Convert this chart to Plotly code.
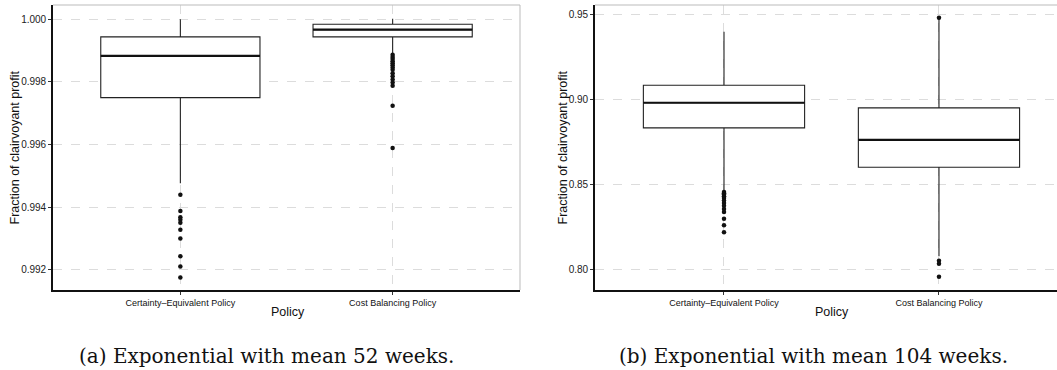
import plotly.graph_objects as go

categories = ["Certainty\u2013Equivalent Policy", "Cost Balancing Policy"]

# Panel (a): Exponential with mean 52 weeks
a_q1 = [0.99750, 0.99944]
a_median = [0.99883, 0.99967]
a_q3 = [0.99944, 0.99984]
a_lower = [0.99477, 0.99891]
a_upper = [1.00000, 1.00002]
a_out_ce = [0.99440, 0.99388, 0.99368, 0.99360, 0.99351, 0.99328, 0.99300,
            0.99244, 0.99211, 0.99176]
a_out_cb = [0.99887, 0.99880, 0.99873, 0.99866, 0.99860, 0.99853, 0.99846,
            0.99839, 0.99828, 0.99818, 0.99808, 0.99798, 0.99788, 0.99724, 0.99589]

# Panel (b): Exponential with mean 104 weeks
b_q1 = [0.8833, 0.8601]
b_median = [0.8981, 0.8763]
b_q3 = [0.9084, 0.8951]
b_lower = [0.8465, 0.8077]
b_upper = [0.9400, 0.9476]
b_out_ce = [0.8455, 0.8448, 0.8440, 0.8430, 0.8420, 0.8405, 0.8390, 0.8375,
            0.8355, 0.8337, 0.8298, 0.8259, 0.8218]
b_out_cb = [0.9482, 0.8051, 0.8033, 0.7956]

y_ticks_a = [0.992, 0.994, 0.996, 0.998, 1.000]
y_ticks_b = [0.80, 0.85, 0.90, 0.95]
captions = ["(a) Exponential with mean 52 weeks.", "(b) Exponential with mean 104 weeks."]

BOX_W = 0.75
fig = go.Figure()

def add_panel(xa, ya, q1, med, q3, lo, up, outs):
    xs = list(range(len(categories)))
    fig.add_trace(go.Box(x=xs, q1=q1, median=med, q3=q3, lowerfence=lo, upperfence=up,
                         width=BOX_W, whiskerwidth=0, fillcolor="white",
                         line=dict(color="#222222", width=1.1), boxpoints=False,
                         showlegend=False, hoverinfo="skip", xaxis=xa, yaxis=ya))
    for i, m in enumerate(med):
        fig.add_trace(go.Scatter(x=[i - BOX_W / 2, i + BOX_W / 2], y=[m, m], mode="lines",
                                 line=dict(color="#111111", width=2.2), showlegend=False,
                                 hoverinfo="skip", xaxis=xa, yaxis=ya))
    for i, o in enumerate(outs):
        fig.add_trace(go.Scatter(x=[i] * len(o), y=o, mode="markers",
                                 marker=dict(color="#111111", size=4.5), showlegend=False,
                                 hoverinfo="skip", xaxis=xa, yaxis=ya))

add_panel("x", "y", a_q1, a_median, a_q3, a_lower, a_upper, [a_out_ce, a_out_cb])
add_panel("x2", "y2", b_q1, b_median, b_q3, b_lower, b_upper, [b_out_ce, b_out_cb])

W, H = 1057, 370
y_dom = [(H - 290) / H, (H - 5) / H]
xa_dom = [53 / W, 520 / W]
xb_dom = [595 / W, 1.0]

common_x = dict(tickmode="array", tickvals=[0, 1], ticktext=categories,
                showgrid=True, gridcolor="#dcdcdc", griddash="dash", gridwidth=1,
                showline=True, linecolor="#111111", linewidth=1.6,
                ticks="outside", ticklen=3, tickcolor="#333333",
                tickfont=dict(family="Liberation Sans, Arial", size=9, color="#111111"),
                zeroline=False, fixedrange=True)
common_y = dict(showgrid=True, gridcolor="#dcdcdc", griddash="dash", gridwidth=1,
                showline=True, linecolor="#111111", linewidth=1.6,
                ticks="outside", ticklen=3, tickcolor="#333333",
                tickfont=dict(family="Liberation Sans, Arial", size=10, color="#222222"),
                zeroline=False, tickmode="array")

fig.update_layout(
    width=W, height=H, margin=dict(l=0, r=0, t=0, b=0),
    paper_bgcolor="white", plot_bgcolor="white",
    xaxis=dict(domain=xa_dom, range=[-0.6, 1.6], anchor="y", **common_x),
    yaxis=dict(domain=y_dom, range=[0.99136, 1.000456], anchor="x",
               tickvals=y_ticks_a, tickformat=".3f", **common_y),
    xaxis2=dict(domain=xb_dom, range=[-0.6, 1.549], anchor="y2", **common_x),
    yaxis2=dict(domain=y_dom, range=[0.7878, 0.9557], anchor="x2",
                tickvals=y_ticks_b, tickformat=".2f", **common_y),
)

# light grey top/right panel border
for xd in (xa_dom, xb_dom):
    fig.add_shape(type="line", xref="paper", yref="paper", x0=xd[0], x1=xd[1],
                  y0=y_dom[1], y1=y_dom[1], line=dict(color="#bbbbbb", width=1))
fig.add_shape(type="line", xref="paper", yref="paper", x0=xa_dom[1], x1=xa_dom[1],
              y0=y_dom[0], y1=y_dom[1], line=dict(color="#bbbbbb", width=1))

title_font = dict(family="Liberation Sans, Arial", size=12.5, color="#111111")
for xc in (14, 562):
    fig.add_annotation(text="Fraction of clairvoyant profit", x=xc / W, y=(H - 147.5) / H,
                       xref="paper", yref="paper", textangle=-90, showarrow=False,
                       font=title_font, xanchor="center", yanchor="middle")
for xc in (288, 832):
    fig.add_annotation(text="Policy", x=xc / W, y=(H - 312) / H, xref="paper", yref="paper",
                       showarrow=False, font=dict(family="Liberation Sans, Arial", size=12.5,
                                                  color="#111111"),
                       xanchor="center", yanchor="middle")
for xc, cap in zip((266, 813), captions):
    fig.add_annotation(text=cap, x=xc / W, y=(H - 356) / H, xref="paper", yref="paper",
                       showarrow=False, font=dict(family="DejaVu Serif", size=20, color="#111111"),
                       xanchor="center", yanchor="middle")

fig.write_html("out.html", config={"displayModeBar": False},
               post_script="document.body.style.margin='0px';document.body.style.padding='0px';")
